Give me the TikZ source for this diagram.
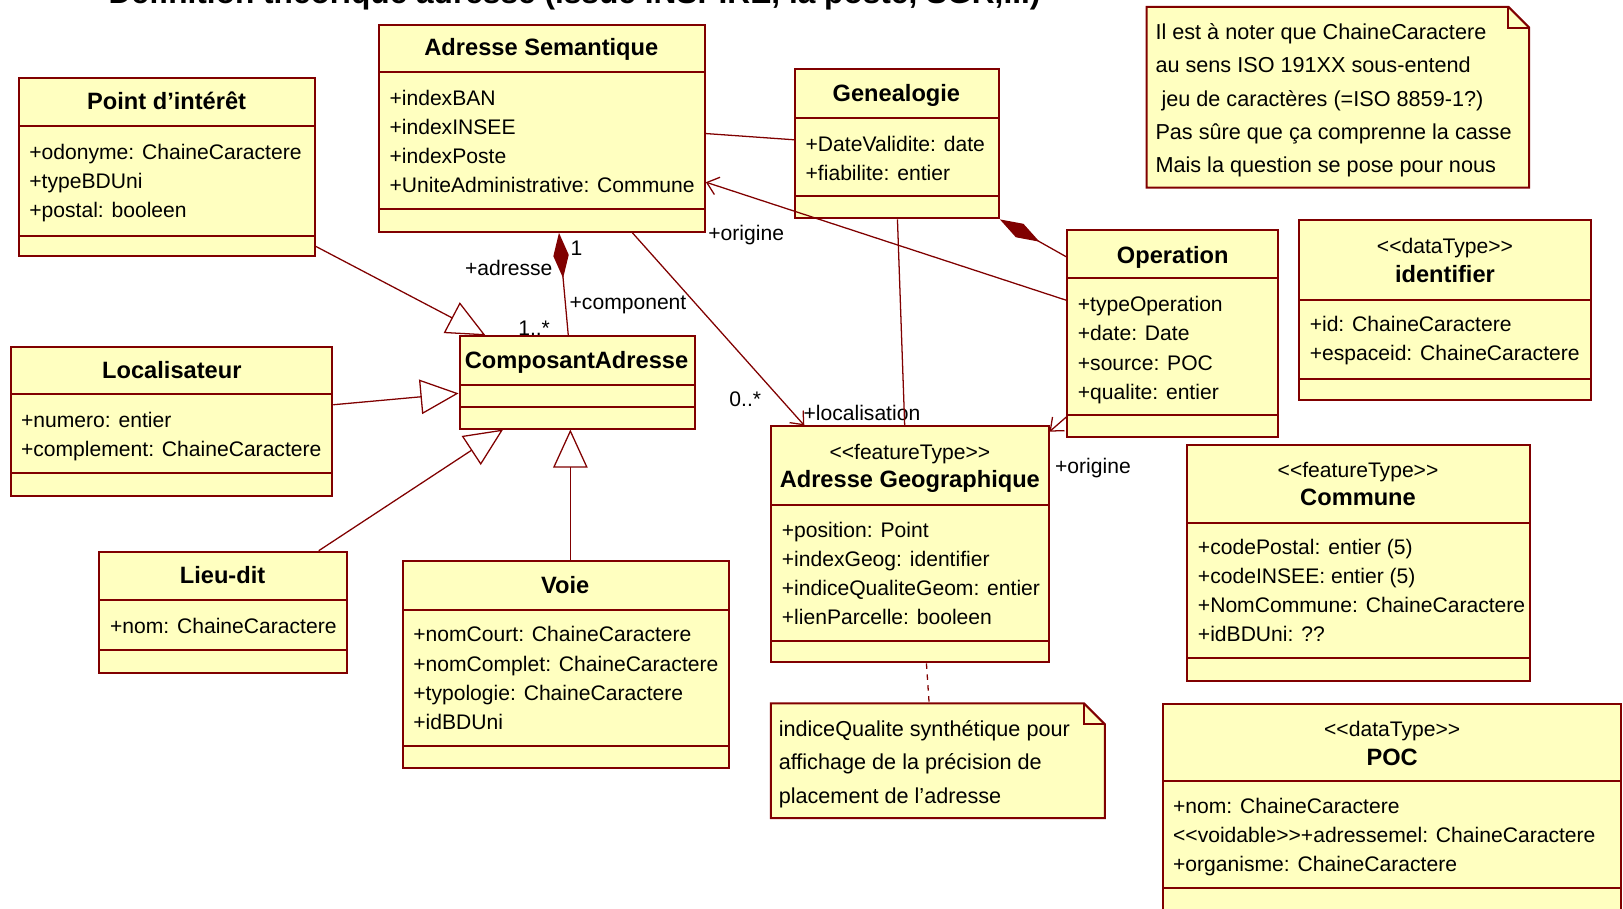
\documentclass[tikz,border=0pt]{standalone}
\usepackage{fontspec}
\setmainfont{Liberation Sans}
\usetikzlibrary{arrows.meta,calc,fit}

\definecolor{umlred}{RGB}{128,0,0}
\definecolor{umlyellow}{RGB}{255,255,192}

\tikzset{
  classbox/.style={draw=umlred, fill=umlyellow, line width=1.1pt, inner sep=0pt},
  notearea/.style={inner sep=0pt},
  notebox/.style={draw=umlred, fill=umlyellow, line width=1.1pt},
  sepline/.style={draw=umlred, line width=1.1pt},
  cname/.style={font=\fontsize{13}{15}\selectfont\bfseries, inner sep=0pt, text height=1.5ex, text depth=0.4ex, yshift=-1.7pt},
  stereo/.style={font=\fontsize{11.6}{15}\selectfont, inner sep=0pt, text height=1.5ex, text depth=0.4ex, yshift=-1.7pt},
  attr/.style={font=\fontsize{11.6}{15}\selectfont, anchor=west, inner sep=0pt, text height=1.5ex, text depth=0.4ex, yshift=-1.7pt},
  notetext/.style={attr, font=\fontsize{11.9}{15}\selectfont},
  role/.style={font=\fontsize{11.6}{15}\selectfont, inner sep=0pt, text height=1.5ex, text depth=0.4ex, yshift=-1.7pt},
  link/.style={draw=umlred, line width=0.7pt},
  gen/.style={link, -{Triangle[open, length=21pt, width=19pt]}},
  nav/.style={link, -{Straight Barb[length=6pt, width=10pt]}},
  compo/.style={link, {Diamond[length=25pt, width=8.5pt]}-},
  notelink/.style={link, dashed},
}

\begin{document}
\begin{tikzpicture}[x=0.02cm, y=-0.02cm]
    \useasboundingbox (0,0) rectangle (1568,878);
    \clip (0,0) rectangle (1568,878);

    % titre (coupe en haut)
    \node[font=\fontsize{17.4}{20}\selectfont\bfseries, anchor=base, inner sep=0pt] (title) at (555,3) {Définition théorique adresse (issue INSPIRE, la poste, SGR,...)};

    % Point d'interet
    \node[classbox, fit={(18,75) (304,247)}] (poi) {};
    \draw[sepline] (18,122) -- (304,122) (18,228) -- (304,228);
    \node[cname] (poi-t) at (161,98) {Point d'intérêt};
    \foreach \t [count=\i from 0] in {+odonyme: ChaineCaractere, +typeBDUni, +postal: booleen}
        \node[attr] (poi-\i) at (28,146+28*\i) {\t};

    % Adresse Semantique
    \node[classbox, fit={(366,24) (681,224)}] (adrsem) {};
    \draw[sepline] (366,70) -- (681,70) (366,202) -- (681,202);
    \node[cname] (adrsem-t) at (523,46) {Adresse Semantique};
    \foreach \t [count=\i from 0] in {+indexBAN, +indexINSEE, +indexPoste, +UniteAdministrative: Commune}
        \node[attr] (adrsem-\i) at (376,94+28*\i) {\t};

    % Genealogie
    \node[classbox, fit={(768,67) (965,211)}] (gene) {};
    \draw[sepline] (768,114) -- (965,114) (768,189) -- (965,189);
    \node[cname] (gene-t) at (866,90) {Genealogie};
    \foreach \t [count=\i from 0] in {+DateValidite: date, +fiabilite: entier}
        \node[attr] (gene-\i) at (778,138+28*\i) {\t};

    % note ChaineCaractere
    \node[notearea, fit={(1108,7) (1477,181)}] (note1) {};
    \draw[notebox] (note1.north west) -- ($(note1.north east)+(-20,0)$) -- ($(note1.north east)+(0,20)$) -- (note1.south east) -- (note1.south west) -- cycle;
    \draw[sepline] ($(note1.north east)+(-20,0)$) -- ($(note1.north east)+(-20,20)$) -- ($(note1.north east)+(0,20)$);
    \foreach \t [count=\i from 0] in {Il est à noter que ChaineCaractere, au sens ISO 191XX sous-entend, {\ jeu de caractères (=ISO 8859-1?)}, Pas sûre que ça comprenne la casse, Mais la question se pose pour nous}
        \node[notetext] (note1-\i) at (1116,30+32.25*\i) {\t};

    % Operation
    \node[classbox, fit={(1031,222) (1235,422)}] (oper) {};
    \draw[sepline] (1031,269) -- (1235,269) (1031,401) -- (1235,401);
    \node[cname] (oper-t) at (1133,246) {Operation};
    \foreach \t [count=\i from 0] in {+typeOperation, +date: Date, +source: POC, +qualite: entier}
        \node[attr] (oper-\i) at (1041,293+28.3*\i) {\t};

    % identifier
    \node[classbox, fit={(1255,213) (1537,386)}] (ident) {};
    \draw[sepline] (1255,290) -- (1537,290) (1255,366) -- (1537,366);
    \node[stereo] (ident-s) at (1396,237) {<{}<dataType>{}>};
    \node[cname] (ident-t) at (1396,265) {identifier};
    \foreach \t [count=\i from 0] in {+id: ChaineCaractere, +espaceid: ChaineCaractere}
        \node[attr] (ident-\i) at (1265,312+28*\i) {\t};

    % Localisateur
    \node[classbox, fit={(11,335) (321,479)}] (loca) {};
    \draw[sepline] (11,381) -- (321,381) (11,457) -- (321,457);
    \node[cname] (loca-t) at (166,358) {Localisateur};
    \foreach \t [count=\i from 0] in {+numero: entier, +complement: ChaineCaractere}
        \node[attr] (loca-\i) at (20,405+28*\i) {\t};

    % ComposantAdresse
    \node[classbox, fit={(444,325) (671,414)}] (ca) {};
    \draw[sepline] (444,372) -- (671,372) (444,393) -- (671,393);
    \node[cname] (ca-t) at (557,348) {ComposantAdresse};

    % Lieu-dit
    \node[classbox, fit={(96,533) (335,650)}] (lieu) {};
    \draw[sepline] (96,580) -- (335,580) (96,628) -- (335,628);
    \node[cname] (lieu-t) at (215,556) {Lieu-dit};
    \node[attr] (lieu-0) at (106,604) {+nom: ChaineCaractere};

    % Voie
    \node[classbox, fit={(389,542) (704,742)}] (voie) {};
    \draw[sepline] (389,589) -- (704,589) (389,721) -- (704,721);
    \node[cname] (voie-t) at (546,565) {Voie};
    \foreach \t [count=\i from 0] in {+nomCourt: ChaineCaractere, +nomComplet: ChaineCaractere, +typologie: ChaineCaractere, +idBDUni}
        \node[attr] (voie-\i) at (399,612+28.3*\i) {\t};

    % Adresse Geographique
    \node[classbox, fit={(745,412) (1013,640)}] (adrgeo) {};
    \draw[sepline] (745,488) -- (1013,488) (745,619) -- (1013,619);
    \node[stereo] (adrgeo-s) at (879,436) {<{}<featureType>{}>};
    \node[cname] (adrgeo-t) at (879,463) {Adresse Geographique};
    \foreach \t [count=\i from 0] in {+position: Point, +indexGeog: identifier, +indiceQualiteGeom: entier, +lienParcelle: booleen}
        \node[attr] (adrgeo-\i) at (755,511+28*\i) {\t};

    % Commune
    \node[classbox, fit={(1147,430) (1478,658)}] (commune) {};
    \draw[sepline] (1147,505) -- (1478,505) (1147,636) -- (1478,636);
    \node[stereo] (commune-s) at (1312,453) {<{}<featureType>{}>};
    \node[cname] (commune-t) at (1312,480) {Commune};
    \foreach \t [count=\i from 0] in {+codePostal: entier (5), +codeINSEE: entier (5), +NomCommune: ChaineCaractere, +idBDUni: ??}
        \node[attr] (commune-\i) at (1157,528+28*\i) {\t};

    % note indiceQualite
    \node[notearea, fit={(745,680) (1067,790)}] (note2) {};
    \draw[notebox] (note2.north west) -- ($(note2.north east)+(-20,0)$) -- ($(note2.north east)+(0,20)$) -- (note2.south east) -- (note2.south west) -- cycle;
    \draw[sepline] ($(note2.north east)+(-20,0)$) -- ($(note2.north east)+(-20,20)$) -- ($(note2.north east)+(0,20)$);
    \foreach \t [count=\i from 0] in {indiceQualite synthétique pour, affichage de la précision de, placement de l'adresse}
        \node[notetext] (note2-\i) at (752,703+32.5*\i) {\t};

    % POC (coupe en bas et a droite)
    \node[classbox, fit={(1124,680) (1566,900)}] (poc) {};
    \draw[sepline] (1124,755) -- (1566,755) (1124,858) -- (1566,858);
    \node[stereo] (poc-s) at (1345,703) {<{}<dataType>{}>};
    \node[cname] (poc-t) at (1345,731) {POC};
    \foreach \t [count=\i from 0] in {+nom: ChaineCaractere, <{}<voidable>{}>+adressemel: ChaineCaractere, +organisme: ChaineCaractere}
        \node[attr] (poc-\i) at (1133,778+28*\i) {\t};

    % generalisations vers ComposantAdresse
    \draw[gen] ($(poi.south east)+(0,-10)$) -- ($(ca.north west)+(26,0)$);
    \draw[gen] ($(loca.north east)+(0,57)$) -- ($(ca.north west)+(0,56)$);
    \draw[gen] ($(lieu.north east)+(-28,0)$) -- ($(ca.south west)+(43,0)$);
    \draw[gen] ($(voie.north west)+(163,0)$) -- ($(ca.south west)+(108,0)$);

    % composition adresse / component
    \draw[compo] ($(adrsem.south west)+(175,0)$) -- ($(ca.north west)+(106,0)$);
    \node[role, anchor=west] (m-one) at (551,239) {1};
    \node[role, anchor=east] (r-adr) at (534,258) {+adresse};
    \node[role, anchor=west] (r-comp) at (550,291) {+component};
    \node[role] (m-many) at (516,316) {1..*};

    % localisation
    \draw[nav] ($(adrsem.south west)+(246,0)$) -- ($(adrgeo.north west)+(33,0)$);
    \node[role] (m-zero) at (720,385) {0..*};
    \node[role, anchor=west] (r-loc) at (776,398) {+localisation};

    % genealogie
    \draw[link] ($(adrsem.north east)+(0,106)$) -- ($(gene.north west)+(0,69)$);
    \draw[link] ($(gene.south west)+(100,0)$) -- ($(adrgeo.north west)+(130,0)$);
    \draw[compo] (gene.south east) -- ($(oper.north west)+(0,27)$);

    % origine
    \draw[nav] ($(oper.north west)+(0,69)$) -- ($(adrsem.north east)+(0,153)$);
    \node[role, anchor=west] (r-orig1) at (684,224) {+origine};
    \draw[nav] ($(oper.south west)+(0,-20)$) -- ($(adrgeo.north east)+(0,6)$);
    \node[role, anchor=west] (r-orig2) at (1019,449) {+origine};

    % lien vers la note
    \draw[notelink] ($(adrgeo.south west)+(151,0)$) -- ($(note2.north west)+(153,0)$);
\end{tikzpicture}
\end{document}
